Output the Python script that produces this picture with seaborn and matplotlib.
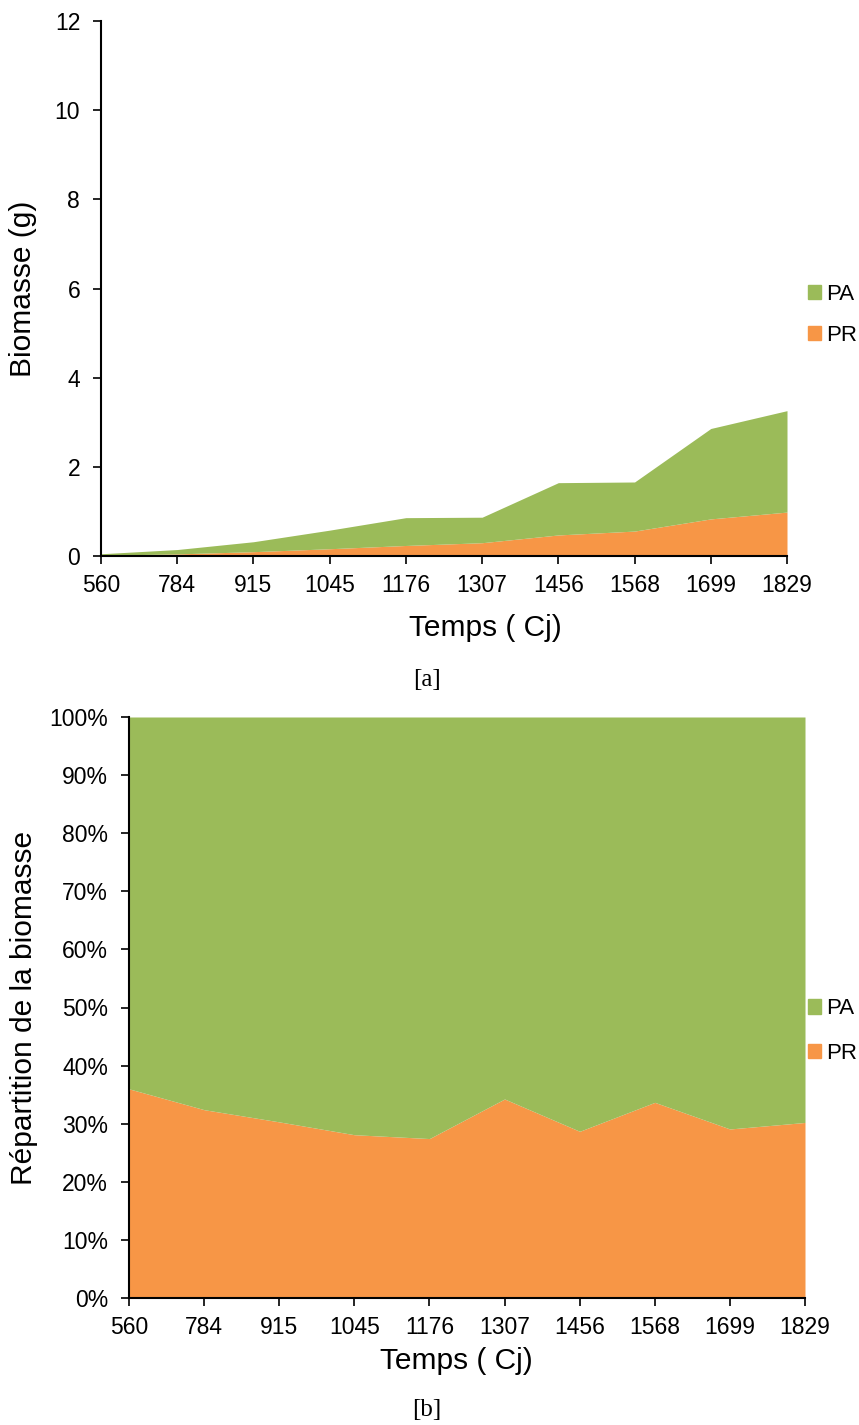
import numpy as np
import seaborn as sns
import matplotlib
matplotlib.use("Agg")
import matplotlib.pyplot as plt
import matplotlib.transforms as mtrans
from matplotlib.patches import Patch

# data
temps = ["560", "784", "915", "1045", "1176", "1307", "1456", "1568", "1699", "1829"]
pr = [0.018, 0.047, 0.097, 0.163, 0.236, 0.298, 0.472, 0.559, 0.832, 0.985]
pa = [0.032, 0.098, 0.223, 0.417, 0.624, 0.572, 1.173, 1.101, 2.028, 2.275]

green = "#9BBB59"
orange = "#F79646"

sns.set_style("ticks")
plt.rcParams['font.family'] = ['Liberation Sans', 'DejaVu Sans']
plt.rcParams['text.color'] = 'black'
plt.rcParams['axes.labelcolor'] = 'black'

x = np.arange(len(temps))
pr_arr = np.array(pr)
pa_arr = np.array(pa)
tot = pr_arr + pa_arr
pr_pct = pr_arr / tot * 100
pa_pct = pa_arr / tot * 100

W, H = 859, 1425
fig = plt.figure(figsize=(W / 100, H / 100), dpi=100)
ax1 = fig.add_axes([101 / W, 1 - 556 / H, 686 / W, 535 / H])
ax2 = fig.add_axes([129 / W, 1 - 1298 / H, 676 / W, 581 / H])


def style_axis(ax, xlab_x, xlab_y, ylab_x, leg_y, spacing):
    ax.set_xlim(0, len(temps) - 1)
    ax.set_xticks(x)
    ax.set_xticklabels(temps)
    for s in ["top", "right"]:
        ax.spines[s].set_visible(False)
    for s in ["left", "bottom"]:
        ax.spines[s].set_color("black")
        ax.spines[s].set_linewidth(1.5)
    ax.tick_params(axis="both", direction="out", length=6, width=1.2,
                   colors="black", labelsize=16.5)
    ax.tick_params(axis="x", pad=7)
    ax.tick_params(axis="y", pad=9)
    ax.set_xlabel("Temps ( Cj)", fontsize=21.5)
    ax.xaxis.set_label_coords(xlab_x / W, 1 - xlab_y / H, transform=fig.transFigure)
    blend = mtrans.blended_transform_factory(fig.transFigure, ax.transAxes)
    ax.yaxis.set_label_coords(ylab_x / W, 0.5, transform=blend)
    handles = [Patch(color=green, label="PA"), Patch(color=orange, label="PR")]
    ax.legend(handles=handles, loc="center left", bbox_to_anchor=(808 / W, 1 - leg_y / H),
              bbox_transform=fig.transFigure, frameon=False, fontsize=16,
              handlelength=0.6, handleheight=0.6, handletextpad=0.2,
              labelspacing=spacing, borderaxespad=0, borderpad=0)


# [a] absolute biomass
ax1.stackplot(x, pr_arr, pa_arr, colors=[orange, green], linewidth=0)
ax1.set_ylim(0, 12)
ax1.set_yticks(range(0, 13, 2))
ax1.set_ylabel("Biomasse (g)", fontsize=21.5)
style_axis(ax1, 485, 614, 37, 315, 0.9)

# [b] share of biomass
ax2.stackplot(x, pr_pct, pa_pct, colors=[orange, green], linewidth=0)
ax2.set_ylim(0, 100)
ax2.set_yticks(range(0, 101, 10))
ax2.set_yticklabels([f"{v}%" for v in range(0, 101, 10)])
ax2.set_ylabel("Répartition de la biomasse", fontsize=21.5)
style_axis(ax2, 456, 1347, 38, 1031, 1.05)

fig.text(427 / W, 1 - 680 / H, "[a]", ha="center", va="center", color="black",
         fontsize=18, family=["Liberation Serif", "DejaVu Serif"])
fig.text(427 / W, 1 - 1410 / H, "[b]", ha="center", va="center", color="black",
         fontsize=18, family=["Liberation Serif", "DejaVu Serif"])

fig.savefig("out.png", dpi=100)
